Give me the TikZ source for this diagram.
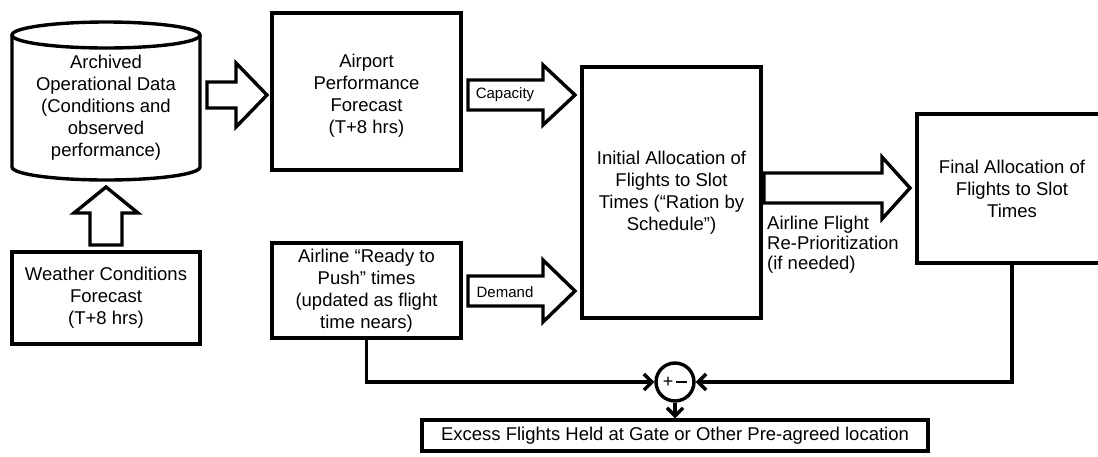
\documentclass[tikz,border=0pt]{standalone}
\usepackage{fontspec}
\setmainfont{Liberation Sans}
\usetikzlibrary{arrows.meta}

\tikzset{
  box/.style={draw, line width=3.4pt, align=center, inner sep=0pt,
              font=\fontsize{18.5}{22}\selectfont},
  txt/.style={align=center, inner sep=0pt, font=\fontsize{18.5}{22}\selectfont},
  small/.style={inner sep=0pt, font=\fontsize{15}{18}\selectfont},
  blockarrow/.style={draw, line width=3.4pt, line join=miter, fill=white},
  feed/.style={line width=3.4pt},
  barb/.style={-{Straight Barb[length=8pt,width=16pt,line width=3.4pt]}}
}

% horizontal block arrow: tail x, head base x, tip x, centre y, shaft half width, head half width
\newcommand\rightblock[6]{%
  \draw[blockarrow] ({#1},{#4-#5}) -- ({#2},{#4-#5}) -- ({#2},{#4-#6}) -- ({#3},{#4})
    -- ({#2},{#4+#6}) -- ({#2},{#4+#5}) -- ({#1},{#4+#5}) -- cycle;}

\begin{document}
\begin{tikzpicture}[x=1pt,y=-1pt]
\useasboundingbox (0,0) rectangle (1098,456);

% archive drum
\draw[line width=3.4pt] (12,35) -- (12,167)
   arc[start angle=180, end angle=360, x radius=94pt, y radius=13pt] -- (200,35);
\draw[line width=3.4pt] (106,35) ellipse[x radius=94pt, y radius=13pt];
\node[txt] (archive) at (106,108)
  {Archived\\Operational Data\\(Conditions and\\observed\\performance)};

% boxes
\node[box, minimum width=188, minimum height=92] (weather) at (106,298)
  {Weather Conditions\\Forecast\\(T+8 hrs)};
\node[box, minimum width=189, minimum height=157] (airport) at (366.5,91.5) {};
\node[txt] (airporttext) at (366.5,96) {Airport\\Performance\\Forecast\\(T+8 hrs)};
\node[box, minimum width=189, minimum height=95] (airline) at (366.5,290.5)
  {Airline “Ready to\\Push” times\\(updated as flight\\time nears)};
\node[box, minimum width=179, minimum height=251] (initial) at (671.5,192.5)
  {Initial Allocation of\\Flights to Slot\\Times (“Ration by\\Schedule”)};
\node[box, minimum width=190, minimum height=149] (final) at (1012,188.5)
  {Final Allocation of\\Flights to Slot\\Times};
\node[box, minimum width=506, minimum height=31] (excess) at (675,435.5)
  {Excess Flights Held at Gate or Other Pre-agreed location};

% block arrows
\draw[blockarrow] (90,245) -- (90,213) -- (74,213) -- (106,187) -- (138,213)
  -- (122,213) -- (122,245) -- cycle;
\rightblock{207}{236}{267}{95}{13}{32}
\rightblock{468}{543}{575}{95}{15}{30}
\rightblock{468}{543}{575}{291}{15}{31}
\rightblock{764}{882}{910}{188}{15}{31}

\node[small] (cap) at (505,95) {Capacity};
\node[small] (dem) at (505,292) {Demand};
\node[txt, align=left, anchor=west, font=\fontsize{18.5}{20}\selectfont]
  (reprio) at (767,245) {Airline Flight\\Re-Prioritization\\(if needed)};

% comparison junction
\node[circle, draw, line width=3.4pt, minimum size=38, inner sep=0pt,
      font=\fontsize{18}{18}\selectfont] (sum) at (675,382)
  {+\,\rule[0.22em]{0.6em}{0.13em}};
\draw[feed, barb] (airline.south) |- (sum.west);
\draw[feed, barb] (final.south) |- (sum.east);
\draw[feed, barb] (sum.south) -- (excess.north);
\end{tikzpicture}
\end{document}
